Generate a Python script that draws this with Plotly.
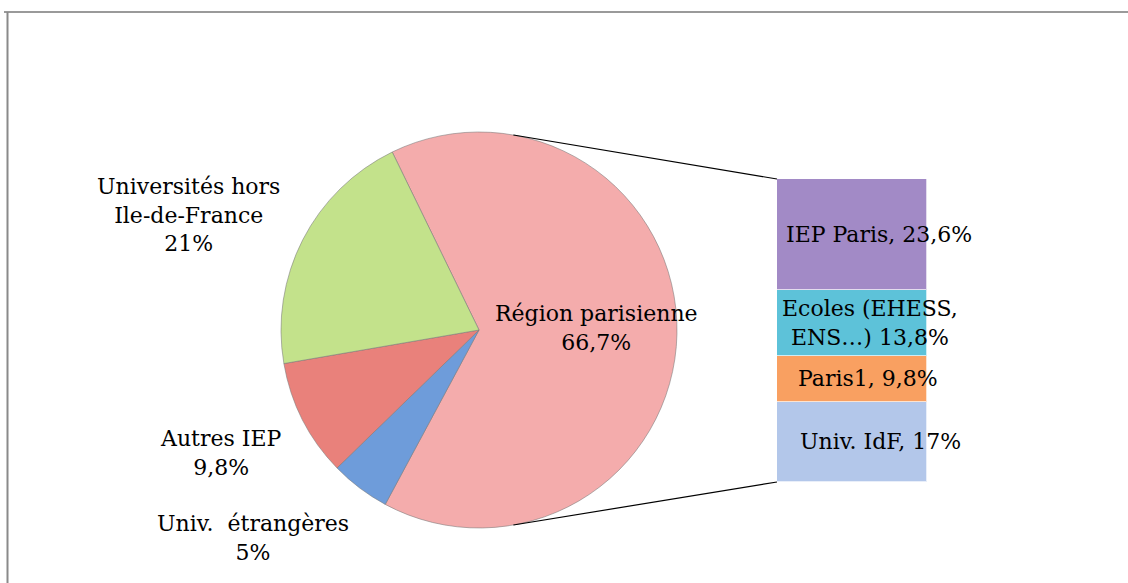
import math
import plotly.graph_objects as go

# ---------------- data ----------------
pie_labels = ["Région parisienne", "Univ.  étrangères", "Autres IEP", "Universités hors<br>Ile-de-France"]
pie_values = [66.7, 5, 9.8, 21]
pie_value_text = ["66,7%", "5%", "9,8%", "21%"]
pie_colors = ["#F4ACAC", "#6E9CDA", "#E9817B", "#C3E28B"]

bar_labels = ["Univ. IdF", "Paris1", "Ecoles (EHESS,<br>ENS…)", "IEP Paris"]
bar_values = [17, 9.8, 13.8, 23.6]
bar_value_text = ["17%", "9,8%", "13,8%", "23,6%"]
bar_colors = ["#B3C7EA", "#F9A061", "#5DC2D9", "#A28AC6"]
bar_sep = [", ", ", ", " ", ", "]

# ---------------- geometry (pixels) ----------------
W, H = 1128, 583
cx, cy, r = 479, 330, 198
bar_x0, bar_x1, bar_top, bar_bot = 777, 927, 179, 482
FONT = "DejaVu Serif"
FS = 22

def px(x):
    return x / W

def py(y):
    return 1 - y / H

fig = go.Figure()

fig.add_trace(go.Pie(
    labels=pie_labels,
    values=pie_values,
    sort=False,
    direction="clockwise",
    rotation=-26,
    marker=dict(colors=pie_colors, line=dict(color="rgba(120,120,120,0.55)", width=1)),
    textinfo="none",
    hoverinfo="label+percent",
    showlegend=False,
    domain=dict(x=[px(cx - r), px(cx + r)], y=[py(cy + r), py(cy - r)]),
))

for lab, val, col in zip(bar_labels, bar_values, bar_colors):
    fig.add_trace(go.Bar(
        x=[0], y=[val], width=1,
        marker=dict(color=col, line=dict(color="rgba(255,255,255,0.7)", width=1)),
        name=lab.replace("<br>", " "),
        showlegend=False,
        hoverinfo="name+y",
    ))

bar_total = sum(bar_values)
fig.update_layout(
    width=W, height=H,
    margin=dict(l=0, r=0, t=0, b=0),
    paper_bgcolor="white", plot_bgcolor="white",
    barmode="stack", bargap=0,
    xaxis=dict(domain=[px(bar_x0), px(bar_x1)], range=[-0.5, 0.5], visible=False, fixedrange=True),
    yaxis=dict(domain=[py(bar_bot), py(bar_top)], range=[0, bar_total], visible=False, fixedrange=True),
    font=dict(family=FONT, size=FS, color="#000000"),
)

# pie labels
pie_label_pos = [(596, 328), (253, 538), (220, 453), (188, 215)]
for lab, vt, (lx, ly) in zip(pie_labels, pie_value_text, pie_label_pos):
    fig.add_annotation(
        x=px(lx), y=py(ly), xref="paper", yref="paper",
        xanchor="center", yanchor="middle",
        text=f"{lab}<br>{vt}", showarrow=False, align="center",
        font=dict(family=FONT, size=FS, color="#000000"),
    )

# bar labels
cum = 0
bar_xshift = [28, 16, 18, 27]
for lab, val, vt, sep, xs in zip(bar_labels, bar_values, bar_value_text, bar_sep, bar_xshift):
    mid = cum + val / 2
    cum += val
    fig.add_annotation(
        x=0, y=mid, xref="x", yref="y", xshift=xs,
        xanchor="center", yanchor="middle",
        text=f"{lab}{sep}{vt}", showarrow=False, align="center",
        font=dict(family=FONT, size=FS, color="#000000"),
    )

# connector lines (pie edge to bar corners)
ang = math.radians(10)
top_pt = (cx + r * math.sin(ang), cy - r * math.cos(ang))
bot_pt = (cx + r * math.sin(ang), cy + r * math.cos(ang))
for (x0, y0), (x1, y1) in [(top_pt, (bar_x0, bar_top)), (bot_pt, (bar_x0, bar_bot))]:
    fig.add_shape(type="line", xref="paper", yref="paper",
                  x0=px(x0), y0=py(y0), x1=px(x1), y1=py(y1),
                  line=dict(color="#000000", width=1.2))

# chart frame (top and left edges)
fig.add_shape(type="line", xref="paper", yref="paper", x0=px(4), y0=py(12), x1=1, y1=py(12),
              line=dict(color="#9a9a9a", width=2))
fig.add_shape(type="line", xref="paper", yref="paper", x0=px(7.5), y0=py(12), x1=px(7.5), y1=0,
              line=dict(color="#8a8a8a", width=2))

fig.write_html(
    "out.html",
    config={"displayModeBar": False},
    post_script="document.body.style.margin='0';document.body.style.overflow='hidden';",
)
